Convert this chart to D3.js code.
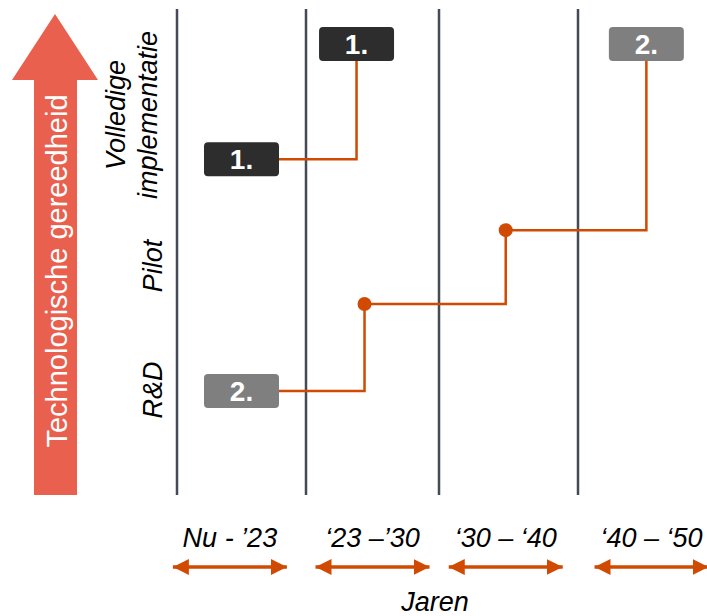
<!DOCTYPE html>
<html>
<head>
<meta charset="utf-8">
<script src="https://d3js.org/d3.v7.min.js"></script>
<style>
    body { margin: 0; background: #fff; }
    text { font-family: "Liberation Sans", Arial, sans-serif; }
</style>
</head>
<body>
<svg id="chart"></svg>
<script>
// Periods on the time axis (one column each)
var periods = ["Nu - \u201923", "\u201823 \u2013\u201930", "\u201830 \u2013 \u201840", "\u201840 \u2013 \u201850"];
// where the period label sits, in column units
var periodCenters = [0.41, 1.5, 2.48, 3.57];

// Readiness levels (0 - 100 readiness scale)
var levels = [["R&D"], ["Pilot"], ["Volledige", "implementatie"]];
var levelValues = [21.6, 47.1, 78.2];

// Technology 1: time (column units) and readiness
var tech1Time = [0.5, 1.38];
var tech1Readiness = [69.1, 92.8];
var tech1Label = "1.";

// Technology 2
var tech2Time = [0.5, 1.44, 2.48, 3.53];
var tech2Readiness = [21.4, 39.3, 54.5, 92.8];
var tech2Label = "2.";

var width = 707;
var height = 616;
var orange = "#D04A02";

var svg = d3.select("#chart")
    .attr("width", width)
    .attr("height", height);

// x: column units -> pixels (columns are not equally wide)
var x = d3.scaleLinear()
    .domain([0, 1, 2, 3, 4])
    .range([177, 306, 439, 578, 707]);

// y: readiness -> pixels
var y = d3.scaleLinear()
    .domain([0, 100])
    .range([495, 9]);

// Big arrow on the left
var arrowTop = y(100) + 5;
var arrowPath = d3.path();
arrowPath.moveTo(34, y(0));
arrowPath.lineTo(34, arrowTop + 66);
arrowPath.lineTo(12, arrowTop + 66);
arrowPath.lineTo(55, arrowTop);
arrowPath.lineTo(98, arrowTop + 66);
arrowPath.lineTo(77, arrowTop + 66);
arrowPath.lineTo(77, y(0));
arrowPath.closePath();

svg.append("path")
    .attr("d", arrowPath.toString())
    .attr("fill", "#E9604F");

svg.append("text")
    .attr("transform", "translate(67," + 271 + ") rotate(-90)")
    .attr("text-anchor", "middle")
    .attr("fill", "#fff")
    .style("font-size", "29px")
    .text("Technologische gereedheid");

// Level labels
var levelText = svg.selectAll(".level")
    .data(levels)
    .enter().append("text")
    .attr("class", "level")
    .attr("transform", function(d, i) {
        var bx = d.length > 1 ? 125 : 162;
        return "translate(" + bx + "," + y(levelValues[i]) + ") rotate(-90)";
    })
    .attr("text-anchor", "middle")
    .style("font-size", "27px")
    .style("font-style", "italic")
    .attr("fill", "#000");

levelText.selectAll("tspan")
    .data(function(d) { return d; })
    .enter().append("tspan")
    .attr("x", 0)
    .attr("y", function(d, i) { return i * 32; })
    .text(function(d) { return d; });

// Column separators
svg.selectAll(".sep")
    .data(d3.range(periods.length))
    .enter().append("line")
    .attr("class", "sep")
    .attr("x1", d => x(d))
    .attr("x2", d => x(d))
    .attr("y1", y(100))
    .attr("y2", y(0))
    .attr("stroke", "#444a56")
    .attr("stroke-width", 2.5);

// Step lines
var stepLine = d3.line()
    .x(d => x(d[0]))
    .y(d => y(d[1]))
    .curve(d3.curveStepAfter);

function drawTech(times, readiness, label, boxColor) {
    var pts = d3.zip(times, readiness);

    svg.append("path")
        .datum(pts)
        .attr("d", stepLine)
        .attr("fill", "none")
        .attr("stroke", orange)
        .attr("stroke-width", 2.5);

    // dots at intermediate points
    svg.selectAll(null)
        .data(pts.slice(1, -1))
        .enter().append("circle")
        .attr("cx", d => x(d[0]))
        .attr("cy", d => y(d[1]))
        .attr("r", 7)
        .attr("fill", orange);

    // label boxes at start and end
    var ends = [pts[0], pts[pts.length - 1]];
    var g = svg.selectAll(null)
        .data(ends)
        .enter().append("g")
        .attr("transform", d => "translate(" + x(d[0]) + "," + y(d[1]) + ")");
    g.append("rect")
        .attr("x", -37.5)
        .attr("y", -17)
        .attr("width", 75)
        .attr("height", 34)
        .attr("rx", 4)
        .attr("fill", boxColor);
    g.append("text")
        .attr("text-anchor", "middle")
        .attr("y", 10)
        .attr("fill", "#fff")
        .style("font-size", "28px")
        .style("font-weight", "bold")
        .text(label);
}

drawTech(tech1Time, tech1Readiness, tech1Label, "#2D2D2D");
drawTech(tech2Time, tech2Readiness, tech2Label, "#7F7F7F");

// Period labels and double arrows
svg.selectAll(".period")
    .data(periods)
    .enter().append("text")
    .attr("class", "period")
    .attr("x", (d, i) => x(periodCenters[i]))
    .attr("y", 547)
    .attr("text-anchor", "middle")
    .style("font-size", "27px")
    .style("font-style", "italic")
    .text(d => d);

var defs = svg.append("defs");
["start", "end"].forEach(function(k) {
    defs.append("marker")
        .attr("id", "head-" + k)
        .attr("viewBox", "0 0 16 16")
        .attr("refX", k == "end" ? 16 : 0)
        .attr("refY", 8)
        .attr("markerWidth", 16)
        .attr("markerHeight", 16)
        .attr("markerUnits", "userSpaceOnUse")
        .attr("orient", "auto")
        .append("path")
        .attr("d", k == "end" ? "M0,0L16,8L0,16Z" : "M16,0L0,8L16,16Z")
        .attr("fill", orange);
});

svg.selectAll(".span")
    .data(periods)
    .enter().append("line")
    .attr("class", "span")
    .attr("x1", (d, i) => x(periodCenters[i]) - 57)
    .attr("x2", (d, i) => x(periodCenters[i]) + 57)
    .attr("y1", 567)
    .attr("y2", 567)
    .attr("stroke", orange)
    .attr("stroke-width", 3.5)
    .attr("marker-start", "url(#head-start)")
    .attr("marker-end", "url(#head-end)");

svg.append("text")
    .attr("x", 435)
    .attr("y", 611)
    .attr("text-anchor", "middle")
    .style("font-size", "27px")
    .style("font-style", "italic")
    .text("Jaren");
</script>
</body>
</html>
